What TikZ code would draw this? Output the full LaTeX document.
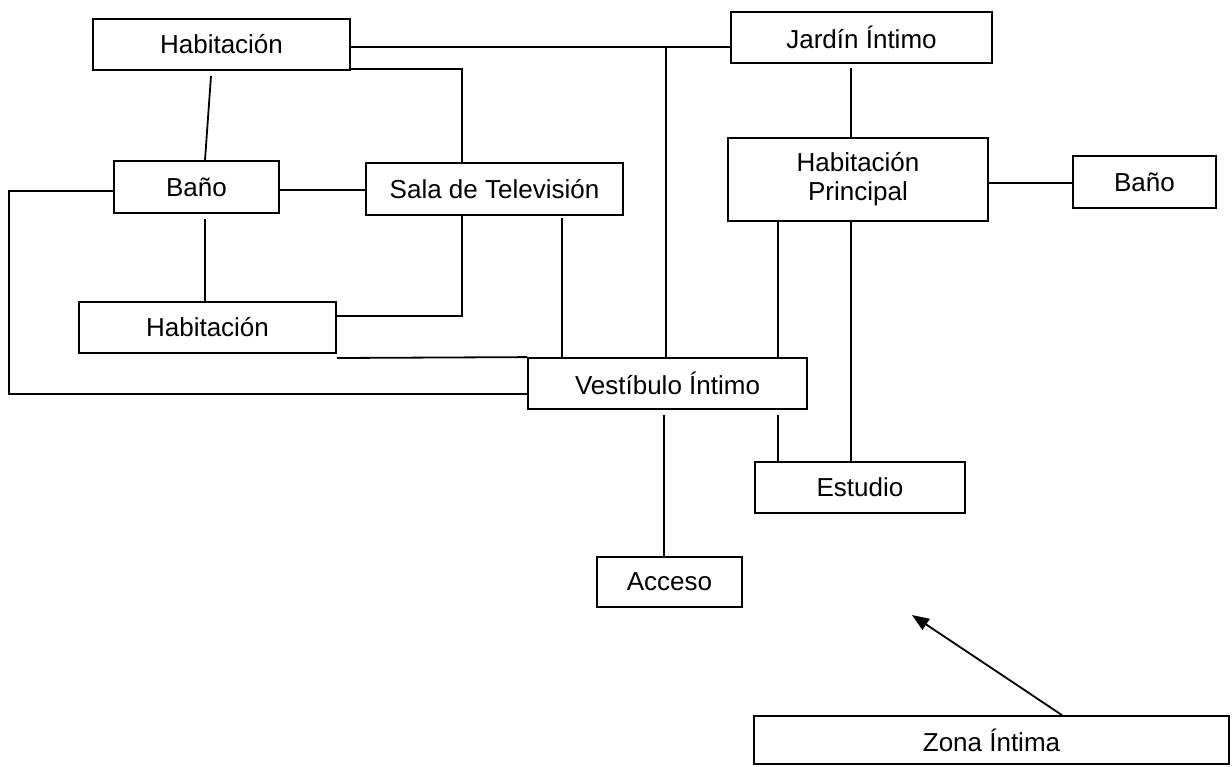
\documentclass[tikz,border=0pt]{standalone}
\usepackage{fontspec}
\setmainfont{Liberation Sans}
\usetikzlibrary{arrows.meta}
\begin{document}
\begin{tikzpicture}[x=1pt,y=-1pt,
  box/.style={draw,line width=1.8pt,inner sep=0pt,font=\fontsize{26}{29}\selectfont,align=center},
  conn/.style={line width=1.8pt}]
\useasboundingbox[fill=white] (0,0) rectangle (1232,766);
% nodes
\node[box,minimum width=257pt,minimum height=51pt] (habtop) at (221.5,44.5) {Habitación};
\node[box,minimum width=261pt,minimum height=51pt] (jardin) at (861.5,37.5) {Jardín Íntimo};
\node[box,minimum width=165pt,minimum height=52pt] (banoL) at (196.5,187) {Baño};
\node[box,minimum width=257pt,minimum height=52pt] (sala) at (494.5,189) {Sala de Televisión};
\node[box,minimum width=260pt,minimum height=83pt] (habpr) at (858,179.5) {Habitación\\Principal};
\node[box,minimum width=143pt,minimum height=52pt] (banoR) at (1144.5,182) {Baño};
\node[box,minimum width=257pt,minimum height=51pt] (hablow) at (207.5,327.5) {Habitación};
\node[box,minimum width=279pt,minimum height=51pt] (vest) at (667.5,383.5) {Vestíbulo Íntimo};
\node[box,minimum width=210pt,minimum height=51pt] (estudio) at (860,487.5) {Estudio};
\node[box,minimum width=145pt,minimum height=50pt] (acceso) at (669.5,582) {Acceso};
\node[box,minimum width=475pt,minimum height=48pt] (zona) at (991.5,740) {Zona Íntima};
% connectors
\draw[conn] (habtop.east |- 0,47) -- (jardin.west |- 0,47);
\draw[conn] (666,47) -- (666,0 |- vest.north);
\draw[conn] (211,76) -- (205,0 |- banoL.north);
\draw[conn] (habtop.east |- 0,69) -- (462,69) -- (462,0 |- sala.north);
\draw[conn] (banoL.east |- 0,190) -- (sala.west |- 0,190);
\draw[conn] (banoL.west |- 0,191) -- (9,191) -- (9,394) -- (vest.west |- 0,394);
\draw[conn] (205,219) -- (205,0 |- hablow.north);
\draw[conn] (462,0 |- sala.south) -- (462,316) -- (hablow.east |- 0,316);
\draw[conn] (hablow.east |- 0,358) -- (vest.north west);
\draw[conn] (562,218) -- (562,0 |- vest.north);
\draw[conn] (778,0 |- habpr.south) -- (778,0 |- vest.north);
\draw[conn] (851,68) -- (851,0 |- habpr.north);
\draw[conn] (851,0 |- habpr.south) -- (851,0 |- estudio.north);
\draw[conn] (habpr.east |- 0,183) -- (banoR.west |- 0,183);
\draw[conn] (778,415) -- (778,0 |- estudio.north);
\draw[conn] (664,415) -- (664,0 |- acceso.north);
\coordinate (tip) at (912,615);
\draw[conn,-{Triangle[length=17pt,width=13pt]}] (1062,0 |- zona.north) -- (tip);
\end{tikzpicture}
\end{document}
